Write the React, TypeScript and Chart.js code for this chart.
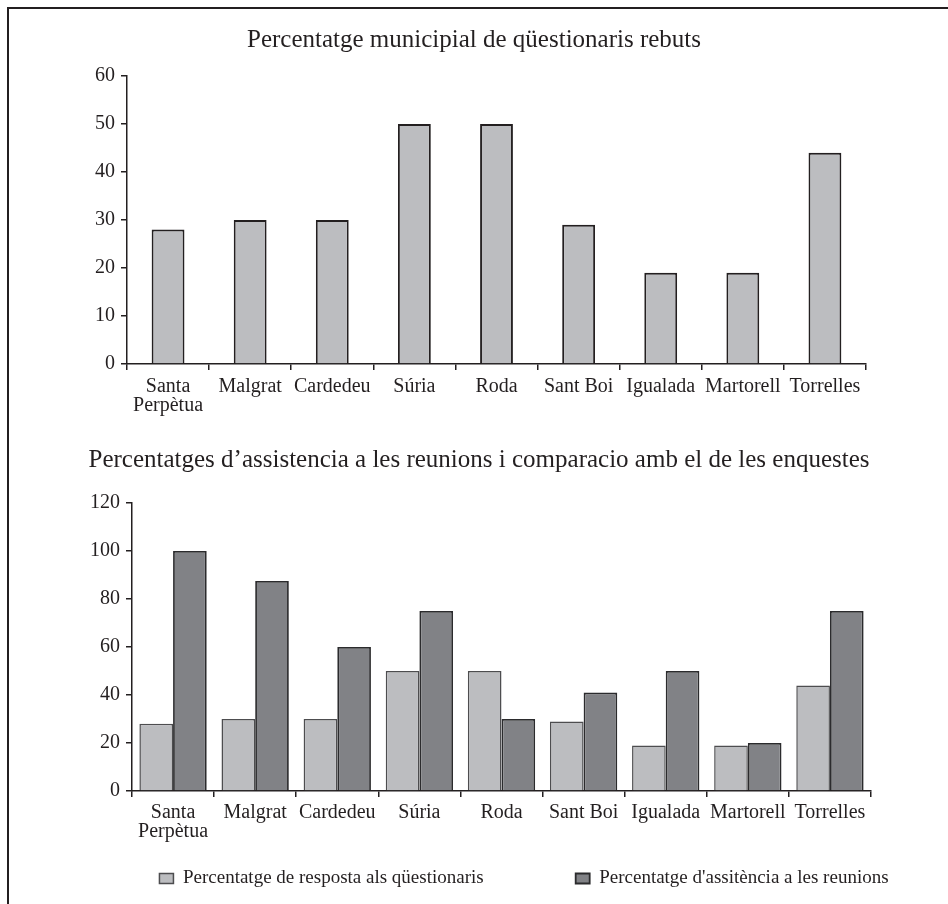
import React, { useEffect, useRef } from "react";
import { Chart, registerables } from "chart.js";

Chart.register(...registerables);

const categories: (string | string[])[] = [
  ["Santa", "Perpètua"],
  "Malgrat",
  "Cardedeu",
  "Súria",
  "Roda",
  "Sant Boi",
  "Igualada",
  "Martorell",
  "Torrelles",
];

const respostaQuestionaris = [28, 30, 30, 50, 50, 29, 19, 19, 44];
const assistenciaReunions = [100, 87.5, 60, 75, 30, 41, 50, 20, 75];

const title1 = "Percentatge municipial de qüestionaris rebuts";
const title2 = "Percentatges d’assistencia a les reunions i comparacio amb el de les enquestes";
const seriesLabel1 = "Percentatge de resposta als qüestionaris";
const seriesLabel2 = "Percentatge d'assitència a les reunions";

const FONT = "'Liberation Serif', 'Times New Roman', serif";
const INK = "#231f20";
const LIGHT = "#bcbdc0";
const DARK = "#818286";

function axes(
  leftWidth: number,
  rightWidth: number,
  xHeight: number,
  max: number,
  step: number,
  labelPad: number
) {
  return {
    x: {
      grid: {
        display: true,
        drawOnChartArea: false,
        drawTicks: true,
        tickLength: 6,
        color: INK,
        lineWidth: 1.5,
        offset: true,
      },
      border: { display: true, color: INK, width: 1.5 },
      ticks: {
        color: INK,
        padding: labelPad,
        maxRotation: 0,
        autoSkip: false,
        font: { family: FONT, size: 20, lineHeight: 0.95 },
      },
      afterFit: (scale: any) => {
        scale.height = xHeight;
      },
    },
    y: {
      min: 0,
      max,
      grid: {
        display: true,
        drawOnChartArea: false,
        drawTicks: true,
        tickLength: 6,
        color: INK,
        lineWidth: 1.5,
      },
      border: { display: true, color: INK, width: 1.5 },
      ticks: {
        color: INK,
        padding: 6,
        stepSize: step,
        font: { family: FONT, size: 20 },
      },
      afterFit: (scale: any) => {
        scale.width = leftWidth;
      },
    },
    yRightSpace: {
      type: "linear",
      position: "right",
      display: true,
      grid: { display: false, drawTicks: false },
      border: { display: false },
      ticks: { display: false },
      afterFit: (scale: any) => {
        scale.width = rightWidth;
      },
    },
  };
}

const legendShift = (dx: number, dy: number) => ({
  id: "legendShift",
  afterLayout(chart: any) {
    const l = chart.legend;
    if (!l) return;
    l.top += dy;
    l.bottom += dy;
    l.left += dx;
    l.right += dx;
  },
});

export default function App() {
  const ref1 = useRef<HTMLCanvasElement | null>(null);
  const ref2 = useRef<HTMLCanvasElement | null>(null);

  useEffect(() => {
    if (!ref1.current || !ref2.current) return;

    const c1 = new Chart(ref1.current, {
      type: "bar",
      data: {
        labels: categories,
        datasets: [
          {
            label: seriesLabel1,
            data: respostaQuestionaris,
            backgroundColor: LIGHT,
            borderColor: INK,
            borderWidth: 1.9,
            barPercentage: 0.4,
            categoryPercentage: 1,
          },
        ],
      },
      options: {
        responsive: false,
        animation: false,
        layout: { padding: 0 },
        plugins: {
          legend: { display: false },
          tooltip: { enabled: false },
          title: {
            display: true,
            text: title1,
            color: INK,
            font: { family: FONT, size: 25, weight: "normal", lineHeight: 1.2 },
            padding: { top: 25, bottom: 21 },
          },
        },
        scales: axes(127, 82, 56, 60, 10, 7),
      } as any,
    });

    const c2 = new Chart(ref2.current, {
      type: "bar",
      data: {
        labels: categories,
        datasets: [
          {
            label: seriesLabel1,
            data: respostaQuestionaris,
            backgroundColor: LIGHT,
            borderColor: "#4d4d4f",
            borderWidth: 1.5,
            barPercentage: 1,
            categoryPercentage: 0.82,
          },
          {
            label: seriesLabel2,
            data: assistenciaReunions,
            backgroundColor: DARK,
            borderColor: "#2b2b2d",
            borderWidth: 1.8,
            barPercentage: 1,
            categoryPercentage: 0.82,
          },
        ],
      },
      options: {
        responsive: false,
        animation: false,
        layout: { padding: { left: 10, right: 0, top: 0, bottom: 0 } },
        plugins: {
          tooltip: { enabled: false },
          title: {
            display: true,
            text: title2,
            color: INK,
            font: { family: FONT, size: 25, weight: "normal", lineHeight: 1.2 },
            padding: { top: 25, bottom: 28 },
          },
          legend: {
            display: true,
            position: "bottom",
            fullSize: true,
            labels: {
              color: INK,
              boxWidth: 14,
              boxHeight: 10,
              padding: 92,
              font: { family: FONT, size: 19 },
            },
          },
        },
        scales: axes(122, 77, 56, 120, 20, 6),
      } as any,
      plugins: [legendShift(45, -70)],
    });

    return () => {
      c1.destroy();
      c2.destroy();
    };
  }, []);

  return (
    <div
      style={{
        position: "fixed",
        left: 0,
        top: 0,
        width: 948,
        height: 904,
        overflow: "hidden",
        background: "#ffffff",
      }}
    >
      <div
        style={{
          position: "absolute",
          left: 7,
          top: 7,
          width: 1200,
          height: 1200,
          borderTop: `2px solid ${INK}`,
          borderLeft: `2px solid ${INK}`,
        }}
      />
      <canvas
        ref={ref1}
        width={948}
        height={420}
        style={{ position: "absolute", left: 0, top: 0, width: 948, height: 420 }}
      />
      <canvas
        ref={ref2}
        width={948}
        height={548}
        style={{ position: "absolute", left: 0, top: 420, width: 948, height: 548 }}
      />
    </div>
  );
}
